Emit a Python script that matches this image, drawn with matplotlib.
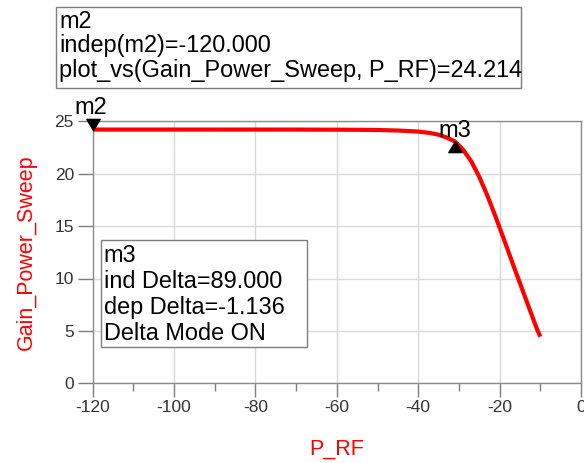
import matplotlib

matplotlib.use("Agg")

import matplotlib.pyplot as plt
from matplotlib.patches import Rectangle
from matplotlib.path import Path

plt.rcParams["font.family"] = ["Liberation Sans", "DejaVu Sans"]
plt.rcParams["axes.unicode_minus"] = False

# swept input power (dBm) and gain (dB)
P_RF = [-120, -110, -100, -90, -80, -70, -60, -55, -50, -45, -40, -37, -35, -33,
        -31, -29, -27, -25, -23, -21, -19, -17, -15, -13, -11, -10]
GAIN = [24.214, 24.214, 24.214, 24.213, 24.212, 24.210, 24.200, 24.190, 24.170,
        24.120, 24.020, 23.880, 23.720, 23.450, 23.078, 22.300, 21.200, 19.700,
        17.900, 15.900, 13.800, 11.650, 9.550, 7.450, 5.350, 4.450]

M2_X, M2_Y = -120.0, 24.214
M3_X, M3_Y = -31.0, 23.078

X_TICKS = [-120, -100, -80, -60, -40, -20, 0]
X_MINOR = [-110, -90, -70, -50, -30, -10]
Y_TICKS = [0, 5, 10, 15, 20, 25]

M2_TEXT = "m2\nindep(m2)=-120.000\nplot_vs(Gain_Power_Sweep, P_RF)=24.214"
M3_TEXT = "m3\nind Delta=%.3f\ndep Delta=%.3f\nDelta Mode ON" % (M3_X - M2_X, M3_Y - M2_Y)

W, H = 584, 463
fig = plt.figure(figsize=(W / 100, H / 100), dpi=100)
ax = fig.add_axes([92.7 / W, 1 - 383.3 / H, (581 - 92.7) / W, (383.3 - 121.3) / H])

ax.plot(P_RF, GAIN, color="#ff0000", linewidth=3.0, solid_capstyle="butt", zorder=3)

ax.set_xlim(-120, 0)
ax.set_ylim(0, 25)
ax.set_xticks(X_TICKS)
ax.set_xticks(X_MINOR, minor=True)
ax.set_yticks(Y_TICKS)
ax.grid(True, which="major", color="#d9d9d9", linewidth=1.0, zorder=0)
ax.set_axisbelow(True)
for sp in ax.spines.values():
    sp.set_color("#8c8c8c")
    sp.set_linewidth(1.0)
ax.tick_params(axis="both", which="major", direction="out", color="#7f7f7f",
               labelcolor="#333333", labelsize=12.5, width=1.0)
ax.tick_params(axis="x", which="major", length=10, pad=2)
ax.tick_params(axis="x", which="minor", length=6, color="#7f7f7f", width=1.0)
ax.tick_params(axis="y", which="major", length=10.5, pad=3)

ax.set_xlabel("P_RF", color="#ff0000", fontsize=15.5, labelpad=17)
ax.set_ylabel("Gain_Power_Sweep", color="#ff0000", fontsize=15.5, labelpad=13)

# marker triangles with the tip on the data point
down_tri = Path([(-0.6, 1.0), (0.6, 1.0), (0.0, 0.0), (-0.6, 1.0)],
                [Path.MOVETO, Path.LINETO, Path.LINETO, Path.CLOSEPOLY])
up_tri = Path([(-0.6, -1.0), (0.6, -1.0), (0.0, 0.0), (-0.6, -1.0)],
              [Path.MOVETO, Path.LINETO, Path.LINETO, Path.CLOSEPOLY])
ax.plot([M2_X], [M2_Y], marker=down_tri, markersize=16, color="black",
        linestyle="none", clip_on=False, zorder=5)
ax.plot([M3_X], [M3_Y], marker=up_tri, markersize=16, color="black",
        linestyle="none", clip_on=False, zorder=5)
ax.annotate("m2", (M2_X, M2_Y), xytext=(-13, 11.5), textcoords="offset points",
            fontsize=17, ha="left", va="baseline", annotation_clip=False, zorder=6)
ax.annotate("m3", (M3_X, M3_Y), xytext=(0, 3.5), textcoords="offset points",
            fontsize=17, ha="center", va="baseline", annotation_clip=False, zorder=6)

# readout boxes
def readout(x0, y0, x1, y1, text, pad_top, spacing):
    fig.patches.append(Rectangle((x0 / W, 1 - y1 / H), (x1 - x0) / W, (y1 - y0) / H,
                                 transform=fig.transFigure, facecolor="white",
                                 edgecolor="#7f7f7f", linewidth=1.0, zorder=8))
    fig.text((x0 + 3) / W, 1 - (y0 + pad_top) / H, text, fontsize=16.9, ha="left",
             va="top", linespacing=spacing, zorder=9)

readout(56, 7, 521, 88, M2_TEXT, 3, 1.08)
readout(100.7, 240, 306.7, 346.7, M3_TEXT, 4, 1.16)

fig.savefig("out.png", dpi=100)
